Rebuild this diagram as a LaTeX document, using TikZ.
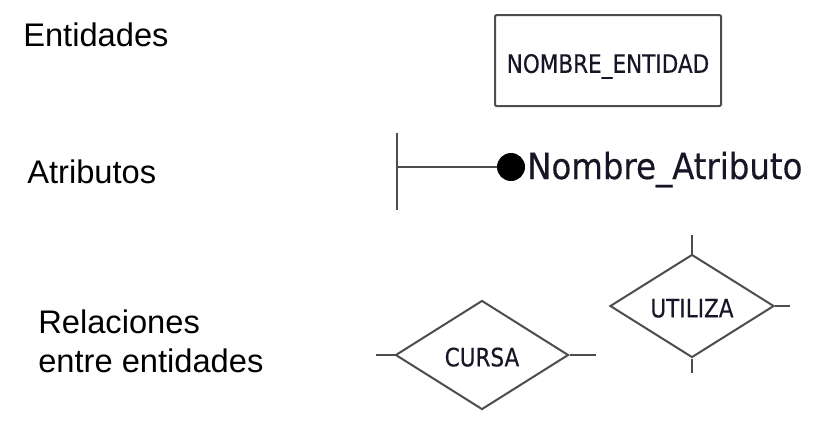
\documentclass[tikz,border=0pt]{standalone}
\usepackage{fontspec}
\setmainfont{Liberation Sans}
\newfontfamily\erfont[FakeStretch=0.85,FakeBold=0.4]{DejaVu Sans}
\newfontfamily\atrfont[FakeStretch=0.9,FakeBold=0.4]{DejaVu Sans}
\usepackage{tikz}
\usetikzlibrary{shapes.geometric}

\definecolor{trazo}{RGB}{77,77,77}
\definecolor{tinta}{RGB}{22,22,38}

\begin{document}
\begin{tikzpicture}[x=0.75pt,y=0.75pt,yscale=-1,xscale=1,
  rotulo/.style={anchor=base west,inner sep=0pt,font=\fontsize{24.5}{29}\selectfont},
  entidad/.style={draw=trazo,line width=1.5pt,rounded corners=1pt,minimum width=169.5pt,minimum height=68.25pt,inner sep=0pt,text height=18.5pt,text depth=0pt,text=tinta,font=\erfont\fontsize{19}{23}\selectfont},
  relacion/.style={diamond,draw=trazo,line width=1.5pt,aspect=1.6,inner sep=0pt,text height=17pt,text depth=0pt,text=tinta,font=\erfont\fontsize{19}{23}\selectfont},
  enlace/.style={draw=trazo,line width=1.5pt}]
\useasboundingbox (0,0) rectangle (822,430);

% Text Node
\node (lblEnt) at (23,46) [rotulo] {Entidades};
% Text Node
\node (lblAtr) at (27,183) [rotulo] {Atributos};
% Text Node
\node (lblRel) at (38,333) [rotulo] {Relaciones};
% Text Node
\node (lblRel2) at (38,372) [rotulo] {entre entidades};

%Shape: Rectangle [id:entidad]
\node (ent) at (608,60.5) [entidad] {NOMBRE\_ENTIDAD};

%Straight Lines [id:atributo]
\coordinate (barTop) at (397,133);
\coordinate (barBot) at (397,210);
\coordinate (barMid) at (397,167);
\draw [enlace] (barTop) -- (barBot);
%Shape: Circle [id:punto]
\node (dot) at (511,167) [circle,fill=black,inner sep=0pt,minimum size=21pt] {};
\draw [draw=trazo,line width=2.2pt] (barMid) -- (dot);
% Text Node
\node (atr) at (527,179) [anchor=base west,inner sep=0pt,text=tinta,font=\atrfont\fontsize{27}{32}\selectfont] {Nombre\_Atributo};

%Shape: Diamond [id:utiliza]
\node (utiliza) at (692,306) [relacion,minimum width=123pt,minimum height=77.25pt] {UTILIZA};
\coordinate (uN) at (692,235);
\coordinate (uS) at (692,373);
\coordinate (uE) at (790,306);
\draw [enlace] (utiliza.north) -- (uN);
\draw [enlace] (utiliza.south) -- (uS);
\draw [enlace] (utiliza.east) -- (uE);

%Shape: Diamond [id:cursa]
\node (cursa) at (482,355) [relacion,minimum width=129.75pt,minimum height=81.75pt] {CURSA};
\coordinate (cW) at (376,355);
\coordinate (cE) at (596,355);
\draw [enlace] (cursa.west) -- (cW);
\draw [enlace] (cursa.east) -- (cE);

\end{tikzpicture}
\end{document}
